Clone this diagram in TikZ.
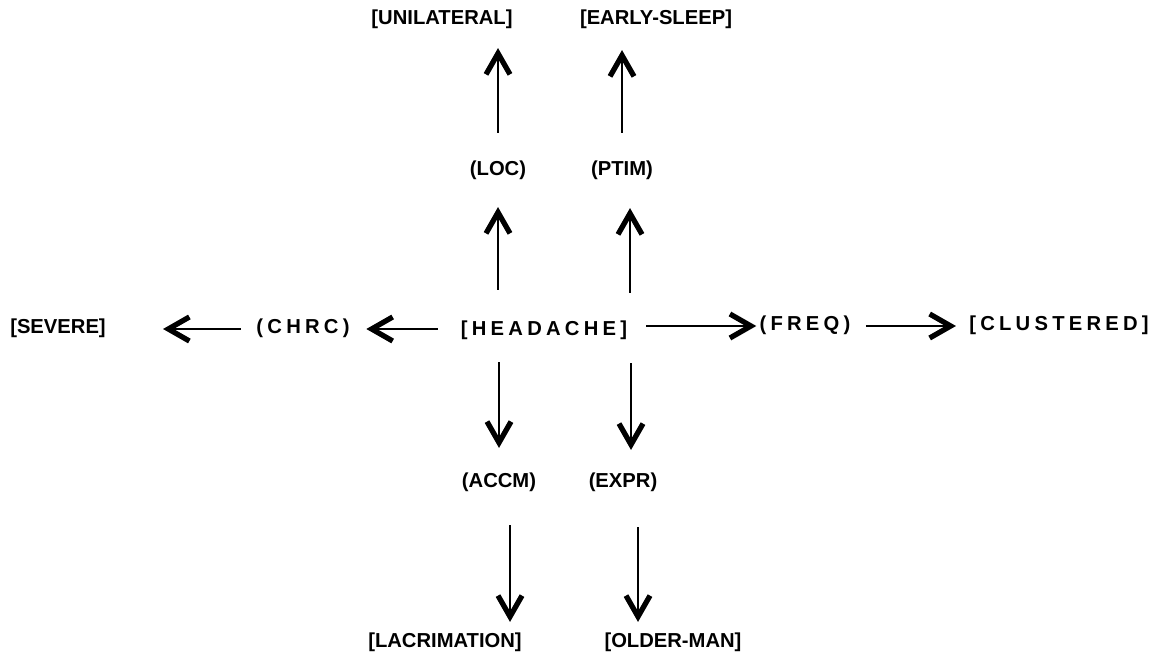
\documentclass[tikz,border=0pt]{standalone}
\usepackage{fontspec}
\setmainfont{Liberation Sans}
\newfontfamily\spaced[LetterSpace=21]{Liberation Sans}
\usetikzlibrary{arrows.meta}

\begin{document}
\begin{tikzpicture}[x=0.02cm, y=-0.02cm,
    every node/.style={font=\fontsize{11.5}{13}\selectfont\bfseries, inner sep=0pt, text height=8pt, text depth=2.5pt},
    arr/.style={line width=1pt, -{Straight Barb[length=4.2mm, width=4.8mm, line width=3pt]}}]
      \useasboundingbox (0, 0) rectangle (1156, 655);

      \node (unil) at (442, 20){[UNILATERAL]};
      \node (early) at (656, 20){[EARLY-SLEEP]};
      \node (loc) at (498, 171){(LOC)};
      \node (ptim) at (622, 171){(PTIM)};
      \node (severe) at (58, 329){[SEVERE]};
      \node (chrc) at (303, 329){\spaced (CHRC)};
      \node (head) at (544, 331){\spaced [HEADACHE]};
      \node (freq) at (805, 326){\spaced (FREQ)};
      \node (clust) at (1059, 326){\spaced [CLUSTERED]};
      \node (accm) at (499, 483){(ACCM)};
      \node (expr) at (623, 483){(EXPR)};
      \node (lacr) at (445, 643){[LACRIMATION]};
      \node (older) at (673, 643){[OLDER-MAN]};

      % upwards
      \draw[arr, shorten <=6.3mm, shorten >=5.3mm] (loc |- head.north) -- (loc.south);
      \draw[arr, shorten <=5.7mm, shorten >=5.5mm] ([xshift=1.6mm]ptim |- head.north) -- ([xshift=1.6mm]ptim.south);
      \draw[arr, shorten <=5.7mm, shorten >=3.7mm] (loc.north) -- (loc.north |- unil.south);
      \draw[arr, shorten <=5.7mm, shorten >=4.1mm] (ptim.north) -- (ptim.north |- early.south);

      % sideways
      \draw[arr, shorten <=4.6mm, shorten >=3.3mm] (head.west |- chrc) -- (chrc.east);
      \draw[arr, shorten <=3.1mm, shorten >=11.4mm] (chrc.west) -- (severe.east);
      \draw[arr, shorten <=3.8mm, shorten >=0.6mm] (head.east |- freq) -- (freq.west);
      \draw[arr, shorten <=3mm, shorten >=2.6mm] (freq.east) -- (clust.west);

      % downwards
      \draw[arr, shorten <=4.3mm, shorten >=5.1mm] (accm |- head.south) -- (accm.north);
      \draw[arr, shorten <=4.5mm, shorten >=4.7mm] ([xshift=1.6mm]expr |- head.south) -- ([xshift=1.6mm]expr.north);
      \draw[arr, shorten <=6.5mm, shorten >=2.3mm] ([xshift=2.2mm]accm.south) -- ([xshift=2.2mm]accm.south |- lacr.north);
      \draw[arr, shorten <=6.9mm, shorten >=2.3mm] ([xshift=3mm]expr.south) -- ([xshift=3mm]expr.south |- older.north);

    \end{tikzpicture}
\end{document}
